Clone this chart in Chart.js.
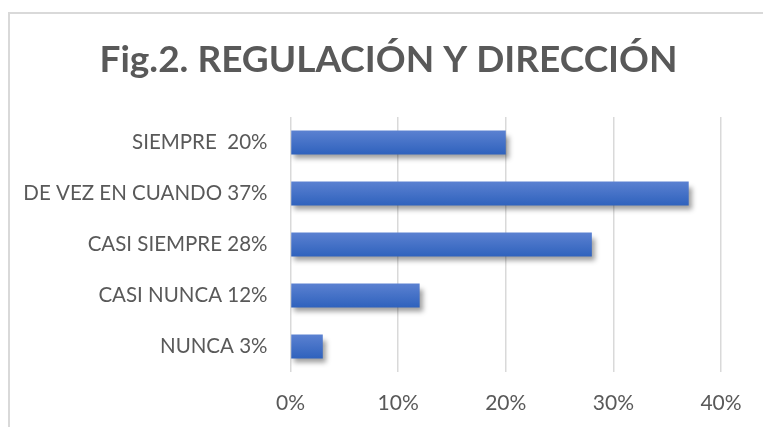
<!DOCTYPE html>
<html>
<head>
<meta charset="utf-8">
<script src="https://cdn.jsdelivr.net/npm/chart.js@4/dist/chart.umd.min.js"></script>
<style>
  html, body { margin: 0; padding: 0; background: #fff; overflow: hidden; }
  #wrap { position: relative; width: 763px; height: 427px; }
  #frame { position: absolute; left: 8px; top: 12px; width: 800px; height: 480px; border: 2px solid #d9d9d9; box-sizing: border-box; }
  #myChart { position: absolute; left: 0; top: 0; }
</style>
</head>
<body>
<div id="wrap">
  <div id="frame"></div>
  <canvas id="myChart" width="763" height="427"></canvas>
</div>
<script>
'use strict';

// categories top to bottom, values as fractions
const categories = ['SIEMPRE  20%', 'DE VEZ EN CUANDO 37%', 'CASI SIEMPRE 28%', 'CASI NUNCA 12%', 'NUNCA 3%'];
const values = [0.20, 0.37, 0.28, 0.12, 0.03];
const xTicks = [0, 0.1, 0.2, 0.3, 0.4];

const textColor = '#595959';
const gridColor = '#d9d9d9';

// soft drop shadow under the bars, like the office chart
const barShadow = {
    id: 'barShadow',
    afterLayout(chart) {
        // title sits a bit right of the canvas centre in the original
        chart.titleBlock.left += 21;
        chart.titleBlock.right += 21;
    },
    beforeDatasetsDraw(chart) {
        let ctx = chart.ctx;
        ctx.save();
        ctx.shadowColor = 'rgba(0, 0, 0, 0.38)';
        ctx.shadowBlur = 5;
        ctx.shadowOffsetX = 3;
        ctx.shadowOffsetY = 5;
    },
    afterDatasetsDraw(chart) {
        chart.ctx.restore();
    }
};

function barFill(c) {
    let chart = c.chart;
    let y = chart.scales.y;
    if (!chart.chartArea || !y || c.dataIndex === undefined) return '#4472c4';
    let mid = y.getPixelForValue(c.dataIndex);
    let g = chart.ctx.createLinearGradient(0, mid - 12, 0, mid + 12);
    g.addColorStop(0, '#5b81d1');
    g.addColorStop(1, '#2f62bd');
    return g;
}

let ctx = document.getElementById('myChart').getContext('2d');
let myChart = new Chart(ctx, {
    type: 'bar',
    data: {
        labels: categories,
        datasets: [{
            data: values,
            backgroundColor: barFill,
            borderWidth: 0,
            barPercentage: 0.47,
            categoryPercentage: 1,
        }]
    },
    plugins: [barShadow],
    options: {
        indexAxis: 'y',
        responsive: false,
        animation: false,
        layout: { padding: { left: 14, right: 42, top: 0, bottom: 0 } },
        plugins: {
            legend: { display: false },
            tooltip: { enabled: false },
            title: {
                display: true,
                text: 'Fig.2. REGULACIÓN Y DIRECCIÓN',
                color: textColor,
                font: { family: 'Lato', size: 37, weight: 'bold', lineHeight: 1.2 },
                padding: { top: 38, bottom: 34.6 },
            },
        },
        scales: {
            x: {
                min: 0,
                max: 0.4,
                afterBuildTicks: (scale) => { scale.ticks = xTicks.map(v => ({ value: v })); },
                afterFit: (scale) => { scale.height = 55; },
                grid: { color: gridColor, lineWidth: 1.5, drawTicks: false },
                border: { display: false },
                ticks: {
                    color: textColor,
                    font: { family: 'Lato', size: 21 },
                    padding: 19,
                    callback: (v) => Math.round(v * 100) + '%',
                },
            },
            y: {
                afterFit: (scale) => { scale.width = 276.5; },
                grid: { display: false, drawTicks: false },
                border: { display: false },
                ticks: {
                    color: textColor,
                    font: { family: 'Lato', size: 20.5 },
                    padding: 23,
                },
            },
        },
    },
});
</script>
</body>
</html>
